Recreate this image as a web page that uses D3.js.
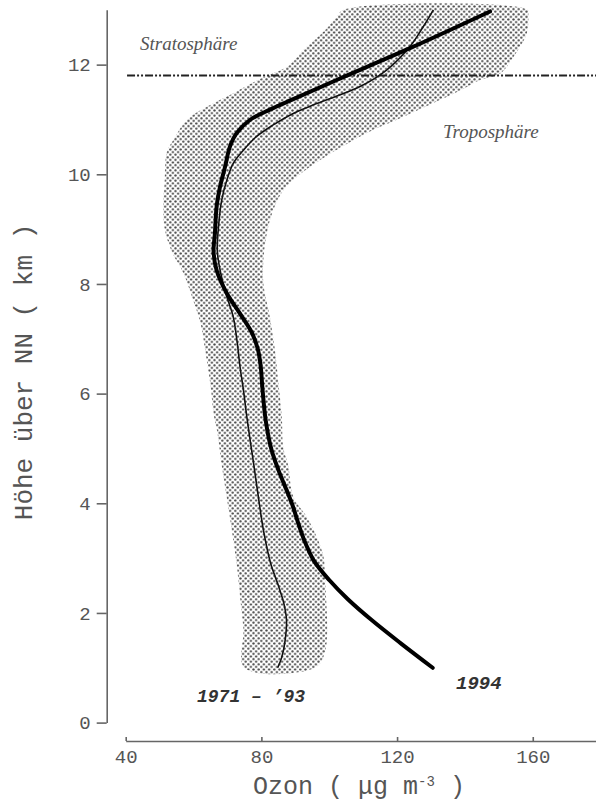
<!DOCTYPE html>
<html>
<head>
<meta charset="utf-8">
<script src="https://cdn.jsdelivr.net/npm/d3@7"></script>
<style>
  body { margin: 0; background: #fff; }
  svg { display: block; }
</style>
</head>
<body>
<div id="chart"></div>
<script>
// Achsen
const xTicks = [40, 80, 120, 160];
const yTicks = [0, 2, 4, 6, 8, 10, 12];
const xDomain = [40, 180];
const yDomain = [0, 13];
const tropopause = 11.8; // km

// Profil 1994 [Ozon, Höhe]
const profile1994 = [
  [130.5, 1.0], [121.0, 1.45], [112.5, 1.87], [105.5, 2.25], [100.0, 2.6],
  [95.5, 2.95], [92.8, 3.3], [90.9, 3.63], [89.2, 3.96],
  [87.3, 4.26], [85.0, 4.61], [83.0, 4.97], [81.3, 5.5], [80.3, 6.1],
  [79.8, 6.5], [79.0, 6.8], [77.3, 7.1], [73.7, 7.46], [69.8, 7.83],
  [66.8, 8.25], [65.9, 8.6], [66.3, 8.92], [66.8, 9.41], [67.8, 9.77],
  [69.3, 10.14], [70.7, 10.5], [72.7, 10.75], [76.6, 10.99], [82.5, 11.18],
  [89.4, 11.37], [102.2, 11.72], [123.8, 12.3], [147.4, 12.97]
];

// Mittel 1971 - '93 [Ozon, Höhe]
const profileMean = [
  [84.8, 1.0], [86.0, 1.19], [87.0, 1.5], [87.4, 1.87], [86.6, 2.18],
  [85.0, 2.5], [82.7, 2.91], [80.6, 3.51], [79.1, 4.12], [77.7, 4.73],
  [76.8, 5.1], [75.7, 5.58], [74.7, 6.07], [73.7, 6.49], [72.9, 6.92],
  [71.7, 7.4], [69.8, 7.77], [68.0, 8.2], [67.0, 8.6], [67.3, 9.0],
  [68.3, 9.53], [69.8, 9.89], [71.7, 10.2], [74.7, 10.44], [78.6, 10.69],
  [83.5, 10.9], [89.4, 11.11], [96.3, 11.29], [109.1, 11.6], [116.9, 11.9],
  [123.8, 12.33], [127.7, 12.69], [130.7, 13.0]
];

// Streubereich: linker Rand (unten -> oben)
const bandLeft = [
  [75.0, 1.0], [74.7, 1.7], [73.7, 2.3], [72.7, 2.9], [71.3, 3.5],
  [69.8, 4.1], [68.3, 4.7], [67.0, 5.3], [66.0, 5.6], [64.9, 6.2],
  [63.4, 6.8], [62.0, 7.3], [59.9, 7.7], [57.0, 8.2], [53.5, 8.6],
  [51.5, 9.0], [51.1, 9.4], [51.5, 9.9], [52.1, 10.4], [54.0, 10.62],
  [58.0, 10.99], [63.9, 11.23], [71.7, 11.48], [80.0, 11.75], [88.0, 11.98],
  [92.4, 12.27], [98.3, 12.6], [102.2, 12.87], [104.2, 13.0]
];

// Streubereich: rechter Rand (oben -> unten)
const bandRight = [
  [158.5, 13.0], [158.7, 12.9], [158.2, 12.57], [154.3, 12.14], [150.4, 11.84],
  [144.5, 11.72], [138.6, 11.53], [130.7, 11.3], [120.9, 11.02], [111.0, 10.75],
  [101.2, 10.41], [91.4, 10.0], [86.5, 9.71], [83.5, 9.35], [81.6, 8.92],
  [80.6, 8.44], [80.6, 8.0], [82.5, 7.4], [84.0, 6.8], [85.0, 6.2],
  [86.0, 5.6], [86.5, 5.0], [87.9, 4.7], [89.4, 4.12], [93.4, 3.75],
  [96.3, 3.39], [98.3, 3.03], [98.8, 2.6], [98.8, 1.3], [95.8, 1.0]
];

const width = 596, height = 802;
const mono = '"Courier New", "Liberation Mono", monospace';
const serif = '"Liberation Serif", "Times New Roman", serif';
const axisColor = '#666';

const svg = d3.select('#chart').append('svg')
  .attr('width', width)
  .attr('height', height);

const x = d3.scaleLinear().domain(xDomain).range([125.7, 600.6]);
const y = d3.scaleLinear().domain(yDomain).range([722.6, 9.8]);

// Punktraster
const pat = svg.append('defs').append('pattern')
  .attr('id', 'dots')
  .attr('patternUnits', 'userSpaceOnUse')
  .attr('width', 5.2)
  .attr('height', 5.2);
pat.append('circle').attr('cx', 1.3).attr('cy', 1.3).attr('r', 1.15).attr('fill', '#4a4a4a');
pat.append('circle').attr('cx', 3.9).attr('cy', 3.9).attr('r', 1.15).attr('fill', '#4a4a4a');

// Band
const bandLine = d3.line()
  .x(d => x(d[0]))
  .y(d => y(d[1]))
  .curve(d3.curveCatmullRomClosed.alpha(0.5));

svg.append('path')
  .attr('d', bandLine(bandLeft.concat(bandRight)))
  .attr('fill', 'url(#dots)');

// Tropopause
svg.append('line')
  .attr('x1', x(40.4))
  .attr('x2', width)
  .attr('y1', y(tropopause))
  .attr('y2', y(tropopause))
  .attr('stroke', '#222')
  .attr('stroke-width', 2)
  .attr('stroke-dasharray', '8,2,2,2,2,2');

// Profile
const line = d3.line()
  .x(d => x(d[0]))
  .y(d => y(d[1]))
  .curve(d3.curveCatmullRom.alpha(0.5));

svg.append('path')
  .attr('d', line(profileMean))
  .attr('fill', 'none')
  .attr('stroke', '#111')
  .attr('stroke-width', 1.6);

svg.append('path')
  .attr('d', line(profile1994))
  .attr('fill', 'none')
  .attr('stroke', '#000')
  .attr('stroke-width', 4)
  .attr('stroke-linecap', 'round');

// Y-Achse
const yAxis = svg.append('g')
  .attr('transform', 'translate(106.7,0)')
  .call(d3.axisLeft(y).tickValues(yTicks).tickSize(10).tickPadding(6).tickSizeOuter(0));
yAxis.select('.domain').attr('stroke', axisColor).attr('stroke-width', 1.6);
yAxis.selectAll('.tick line').attr('stroke', axisColor).attr('stroke-width', 1.6);
yAxis.selectAll('.tick text')
  .attr('fill', '#555')
  .style('font-family', mono)
  .style('font-size', '19px');

// X-Achse
const xAxis = svg.append('g')
  .attr('transform', 'translate(0,741)')
  .call(d3.axisTop(x).tickValues(xTicks).tickSize(4).tickSizeOuter(0));
xAxis.select('.domain').attr('stroke', axisColor).attr('stroke-width', 1.6);
xAxis.selectAll('.tick line').attr('stroke', axisColor).attr('stroke-width', 1.6);
xAxis.selectAll('.tick text')
  .attr('y', 22)
  .attr('fill', '#555')
  .style('font-family', mono)
  .style('font-size', '19px');

// Achsentitel
svg.append('text')
  .attr('transform', 'translate(32,372) rotate(-90)')
  .attr('text-anchor', 'middle')
  .attr('fill', '#555')
  .style('font-family', mono)
  .style('font-size', '26px')
  .text('Höhe über NN ( km )');

const xt = svg.append('text')
  .attr('x', 359)
  .attr('y', 794)
  .attr('text-anchor', 'middle')
  .attr('fill', '#555')
  .style('font-family', mono)
  .style('font-size', '25px');
xt.append('tspan').text('Ozon ( μg m');
xt.append('tspan').attr('dy', -8).style('font-size', '14px').text('-3');
xt.append('tspan').attr('dy', 8).text(' )');

// Beschriftungen
svg.append('text')
  .attr('x', 140).attr('y', 50)
  .attr('fill', '#555')
  .style('font-family', serif)
  .style('font-style', 'italic')
  .style('font-size', '19px')
  .text('Stratosphäre');

svg.append('text')
  .attr('x', 443).attr('y', 138)
  .attr('fill', '#555')
  .style('font-family', serif)
  .style('font-style', 'italic')
  .style('font-size', '19px')
  .text('Troposphäre');

svg.append('text')
  .attr('x', 197).attr('y', 702)
  .attr('fill', '#333')
  .style('font-family', mono)
  .style('font-style', 'italic')
  .style('font-weight', 'bold')
  .style('font-size', '18px')
  .text('1971 – ’93');

svg.append('text')
  .attr('x', 456).attr('y', 689)
  .attr('fill', '#333')
  .style('font-family', mono)
  .style('font-style', 'italic')
  .style('font-weight', 'bold')
  .style('font-size', '19px')
  .text('1994');
</script>
</body>
</html>
